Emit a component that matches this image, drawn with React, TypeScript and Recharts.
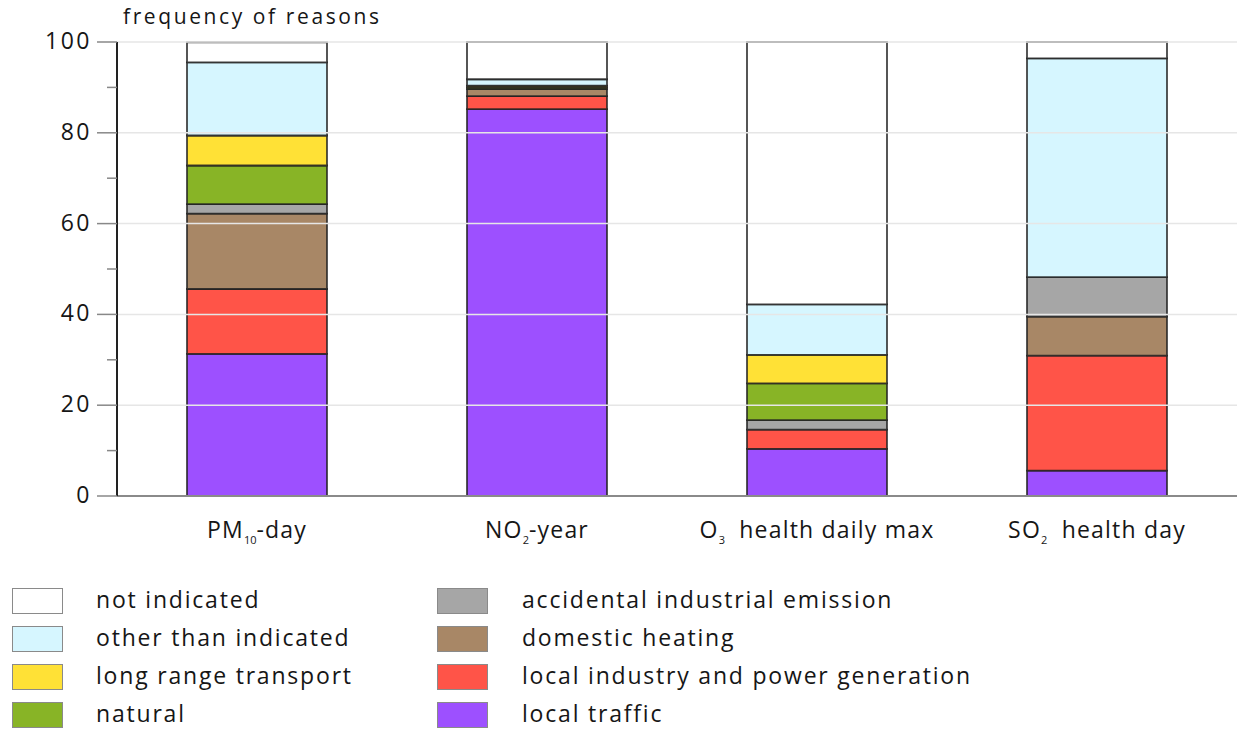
import React from 'react';
import { BarChart, Bar, XAxis, YAxis, ReferenceLine } from 'recharts';

const categories = ['PM10-day', 'NO2-year', 'O3 health daily max', 'SO2 health day'];
const tickParts: [string, string, string][] = [
  ['PM', '10', '-day'],
  ['NO', '2', '-year'],
  ['O', '3', '\u00A0 health daily max'],
  ['SO', '2', '\u00A0 health day'],
];

const localTraffic = [31.3, 85.2, 10.4, 5.6];
const localIndustry = [14.3, 2.9, 4.2, 25.3];
const domesticHeating = [16.6, 1.5, 0, 8.6];
const accidental = [2.1, 0, 2.1, 8.7];
const natural = [8.5, 0.4, 8.1, 0];
const longRange = [6.6, 0.4, 6.3, 0];
const otherThan = [16.1, 1.4, 11.1, 48.2];
const notIndicated = [4.4, 8.2, 57.8, 3.6];

const seriesNames = [
  'local traffic',
  'local industry and power generation',
  'domestic heating',
  'accidental industrial emission',
  'natural',
  'long range transport',
  'other than indicated',
  'not indicated',
];
const seriesColors = ['#9d50ff', '#ff5448', '#a88766', '#a6a6a6', '#88b426', '#ffe136', '#d6f6ff', '#ffffff'];
const seriesValues = [localTraffic, localIndustry, domesticHeating, accidental, natural, longRange, otherThan, notIndicated];

const yTicks = [0, 10, 20, 30, 40, 50, 60, 70, 80, 90, 100];
const gridValues = [20, 40, 60, 80, 100];

const legendLeft = ['not indicated', 'other than indicated', 'long range transport', 'natural'];
const legendRight = ['accidental industrial emission', 'domestic heating', 'local industry and power generation', 'local traffic'];

const data = categories.map((c, i) => {
  const row: Record<string, any> = { name: c, idx: i };
  seriesNames.forEach((s, k) => {
    row[s] = seriesValues[k][i];
  });
  return row;
});

const FONT = '"Open Sans", "Noto Sans", sans-serif';
const TEXT = '#161616';

const XTick = (props: any) => {
  const { x, y, payload } = props;
  const parts = tickParts[payload.index] || [payload.value, '', ''];
  return (
    <text x={x} y={y + 34} textAnchor="middle" fontSize={23} letterSpacing={1.2} fill={TEXT} fontFamily={FONT}>
      <tspan>{parts[0]}</tspan>
      <tspan dy={6} fontSize={11} letterSpacing={0}>{parts[1]}</tspan>
      <tspan dy={-6}>{parts[2]}</tspan>
    </text>
  );
};

const YTick = (props: any) => {
  const { x, y, payload } = props;
  const v = payload.value;
  const major = v % 20 === 0;
  return (
    <g>
      <line x1={x - (major ? 20 : 10)} x2={x} y1={y} y2={y} stroke="#888" strokeWidth={1.5} />
      {major && (
        <text x={x - 25} y={y + 7} textAnchor="end" fontSize={23} letterSpacing={2.5} fill={TEXT} fontFamily={FONT}>
          {v}
        </text>
      )}
    </g>
  );
};

const colorOf = (name: string) => seriesColors[seriesNames.indexOf(name)];

const LegendCol = ({ items, left, textLeft }: { items: string[]; left: number; textLeft: number }) => (
  <>
    {items.map((name, i) => (
      <React.Fragment key={name}>
        <div
          style={{
            position: 'absolute',
            left,
            top: 588 + i * 38,
            width: 51,
            height: 26,
            background: colorOf(name),
            border: '1.5px solid #8a8a8a',
            boxSizing: 'border-box',
          }}
        />
        <div
          style={{
            position: 'absolute',
            left: textLeft,
            top: 584 + i * 38,
            fontSize: 23,
            letterSpacing: 1.8,
            lineHeight: '30px',
            color: TEXT,
            fontFamily: FONT,
            whiteSpace: 'nowrap',
          }}
        >
          {name}
        </div>
      </React.Fragment>
    ))}
  </>
);

export default function App() {
  return (
    <div style={{ position: 'absolute', left: 0, top: 0, width: 1239, height: 735, background: '#fff' }}>
      <div
        style={{
          position: 'absolute',
          left: 123,
          top: 2,
          fontSize: 21,
          letterSpacing: 2.6,
          color: TEXT,
          fontFamily: FONT,
        }}
      >
        frequency of reasons
      </div>
      <BarChart
        width={1239}
        height={566}
        data={data}
        margin={{ top: 42, right: 2, bottom: 0, left: 0 }}
        barCategoryGap="25%"
      >
        {gridValues.map((g) => (
          <ReferenceLine key={g} y={g} stroke="#e6e6e6" strokeWidth={1.5} />
        ))}
        <XAxis
          dataKey="name"
          height={70}
          tick={<XTick />}
          tickLine={false}
          axisLine={{ stroke: '#8a8a8a', strokeWidth: 2 }}
          interval={0}
        />
        <YAxis
          width={117}
          domain={[0, 100]}
          ticks={yTicks}
          interval={0}
          tickLine={false}
          tickSize={0}
          tickMargin={0}
          tick={<YTick />}
          axisLine={{ stroke: '#222', strokeWidth: 2 }}
        />
        {seriesNames.map((s, k) => (
          <Bar
            key={s}
            dataKey={s}
            stackId="a"
            fill={seriesColors[k]}
            stroke="#222"
            strokeOpacity={0.85}
            strokeWidth={1.8}
            isAnimationActive={false}
          />
        ))}
      </BarChart>
      <LegendCol items={legendLeft} left={12} textLeft={96} />
      <LegendCol items={legendRight} left={437} textLeft={522} />
    </div>
  );
}
